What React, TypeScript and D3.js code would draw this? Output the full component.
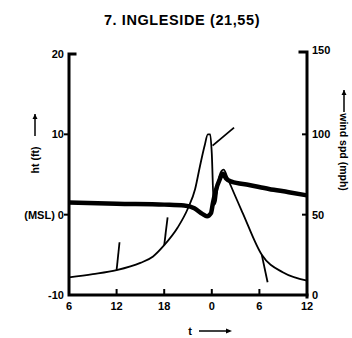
import React from "react";
import * as d3 from "d3";

// ---- data ----
const title = "7. INGLESIDE (21,55)";
const hourTicks = [0, 6, 12, 18, 24, 30];
const hourTickLabels = ["6", "12", "18", "0", "6", "12"];
const htTicks = [20, 10, 0, -10];
const htTickLabels = ["20", "10", "(MSL) 0", "-10"];
const windTicks = [150, 100, 50, 0];
const windTickLabels = ["150", "100", "50", "0"];

// storm surge height (ft) vs hour
const htHours = [0, 6, 12, 14.5, 15.8, 16.8, 17.4, 17.9, 18.15, 18.5, 19.0, 19.4, 19.8, 20.5, 22.7, 25.2, 27.7, 30];
const htValues = [1.5, 1.35, 1.25, 1.15, 0.8, 0.1, -0.2, 0.2, 1.5, 3.0, 4.4, 5.1, 4.5, 4.1, 3.7, 3.2, 2.8, 2.4];

// wind speed (mph) vs hour
const windHours = [0, 3, 6, 9, 10.6, 12, 13.7, 15, 15.9, 16.5, 17.1, 17.5, 17.8, 18.0, 18.25, 18.5, 18.8, 19.2, 19.5, 19.9, 20.4, 21.9, 24.3, 27, 30];
const windValues = [11, 13, 15.5, 20, 24, 31, 42, 54, 66, 80, 93, 100, 100, 88, 56, 58, 70, 77, 78, 74, 68, 51, 25, 14, 9];

// wind direction barbs: hour, speed at anchor, direction (deg clockwise from up)
const barbHours = [6, 12, 18.1, 24.3];
const barbSpeeds = [15.5, 31, 93, 25];
const barbDirs = [6, 7, 50, 168];

export default function App() {
  const W = 352, H = 338;
  const x0 = 69, x1 = 307, yTop = 54, yBot = 295;
  const x = d3.scaleLinear().domain([0, 30]).range([x0, x1]);
  const yHt = d3.scaleLinear().domain([-10, 20]).range([yBot, yTop]);
  const yWind = d3.scaleLinear().domain([0, 150]).range([yBot, yTop]);

  const htLine = d3.line<number>()
    .x((_, i) => x(htHours[i]))
    .y((d) => yHt(d))
    .curve(d3.curveMonotoneX);
  const windLine = d3.line<number>()
    .x((_, i) => x(windHours[i]))
    .y((d) => yWind(d))
    .curve(d3.curveMonotoneX);

  const font = "'Liberation Sans', Arial, sans-serif";
  const barbLen = 28;

  return (
    <svg width={W} height={H} style={{ display: "block", position: "absolute", left: 0, top: 0 }}>
      <rect width={W} height={H} fill="#fff" />
      <text x={182} y={25} textAnchor="middle" fontFamily={font} fontWeight="bold" fontSize={14.5} letterSpacing={0.6} fill="#000">
        {title}
      </text>

      {/* axes */}
      <g stroke="#000" strokeWidth={3} fill="none" strokeLinecap="square">
        <path d={`M${x0 + 6},${yTop} H${x0} V${yBot} H${x1}`} />
        <path d={`M${x1 - 7},${yTop - 2} H${x1} V${yBot + 2}`} />
      </g>

      {/* left ticks */}
      {htTicks.map((t, i) => (
        <g key={"lt" + i}>
          {t !== 20 && t !== -10 && (
            <line x1={x0 - 5} x2={x0} y1={yHt(t)} y2={yHt(t)} stroke="#000" strokeWidth={2} />
          )}
          <text x={x0 - 5} y={yHt(t) + 4} textAnchor="end" fontFamily={font} fontWeight="bold" fontSize={11} fill="#000">
            {htTickLabels[i]}
          </text>
        </g>
      ))}

      {/* right ticks */}
      {windTicks.map((t, i) => (
        <g key={"rt" + i}>
          {t !== 150 && t !== 0 && (
            <line x1={x1 - 5} x2={x1} y1={yWind(t)} y2={yWind(t)} stroke="#000" strokeWidth={2} />
          )}
          <text x={x1 + 5} y={yWind(t) + (t === 150 ? 0 : 4)} textAnchor="start" fontFamily={font} fontWeight="bold" fontSize={11} fill="#000">
            {windTickLabels[i]}
          </text>
        </g>
      ))}

      {/* bottom ticks */}
      {hourTicks.map((t, i) => (
        <g key={"bt" + i}>
          {i > 0 && i < hourTicks.length - 1 && (
            <line x1={x(t)} x2={x(t)} y1={yBot} y2={yBot - 6} stroke="#000" strokeWidth={2} />
          )}
          <text x={x(t)} y={yBot + 15} textAnchor="middle" fontFamily={font} fontWeight="bold" fontSize={11} fill="#000">
            {hourTickLabels[i]}
          </text>
        </g>
      ))}

      {/* data lines */}
      <path d={windLine(windValues) || ""} fill="none" stroke="#000" strokeWidth={1.8} strokeLinejoin="round" />
      <path d={htLine(htValues) || ""} fill="none" stroke="#000" strokeWidth={4.5} strokeLinejoin="round" />

      {/* wind direction barbs */}
      {barbHours.map((h, i) => {
        const bx = x(h), by = yWind(barbSpeeds[i]);
        const a = (barbDirs[i] * Math.PI) / 180;
        return (
          <line key={"b" + i} x1={bx} y1={by} x2={bx + barbLen * Math.sin(a)} y2={by - barbLen * Math.cos(a)}
            stroke="#000" strokeWidth={1.8} />
        );
      })}

      {/* axis titles */}
      <g transform="translate(39,160) rotate(-90)">
        <text x={0} y={0} textAnchor="middle" fontFamily={font} fontWeight="bold" fontSize={10.5} fill="#000">ht (ft)</text>
        <line x1={24} x2={46} y1={-4} y2={-4} stroke="#000" strokeWidth={1.5} />
        <path d="M46,-4 l-5,-2.5 v5 z" fill="#000" />
      </g>
      <g transform="translate(340,152) rotate(90)">
        <text x={0} y={0} textAnchor="middle" fontFamily={font} fontWeight="bold" fontSize={10.5} fill="#000">wind spd (mph)</text>
        <line x1={-62} x2={-40} y1={-4} y2={-4} stroke="#000" strokeWidth={1.5} />
        <path d="M-62,-4 l5,-2.5 v5 z" fill="#000" />
      </g>
      <text x={190} y={335} textAnchor="middle" fontFamily={font} fontWeight="bold" fontSize={11} fill="#000">t</text>
      <line x1={199} x2={228} y1={331} y2={331} stroke="#000" strokeWidth={1.5} />
      <path d="M232,331 l-6,-2.5 v5 z" fill="#000" />
    </svg>
  );
}
